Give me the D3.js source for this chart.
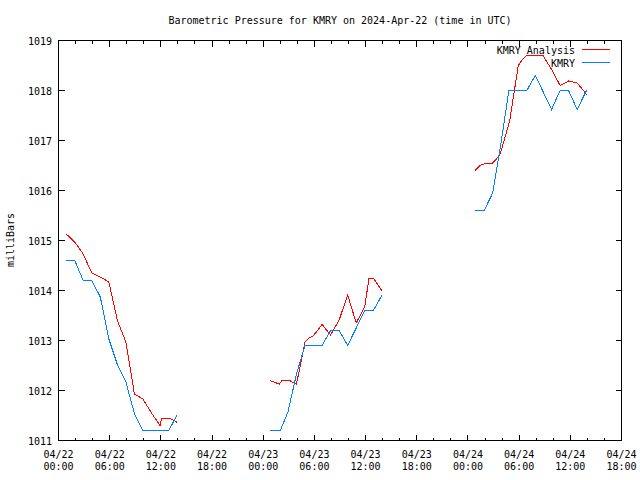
<!DOCTYPE html>
<html>
<head>
<meta charset="utf-8">
<script src="https://cdn.jsdelivr.net/npm/d3@7"></script>
<style>
  html, body { margin: 0; padding: 0; background: #fff; }
  svg { display: block; }
  text { font-family: "DejaVu Sans Mono", "Liberation Mono", monospace; font-size: 10px; fill: #000; }
</style>
</head>
<body>
<svg id="chart" width="640" height="480"></svg>
<script>
// ---- Data (hours after 2024-04-22 00:00 UTC, pressure in mb) ----
const startUTC = Date.UTC(2024, 3, 22, 0, 0);
const spanHours = 66;

// KMRY Analysis (red), null marks a gap
const analysisHours = [
  0.9, 1.9, 2.9, 3.9, 4.9, 5.9, 6.9, 7.9, 8.9, 9.9, 10.9, 11.9, 12.1, 12.9, 13.6, 13.9,
  null,
  24.8, 25.4, 25.9, 26.2, 27.1, 27.5, 27.9, 28.9, 29.3, 29.9, 30.9, 31.9, 32.9, 33.9, 34.9, 35.9, 36.4, 36.9, 37.9,
  null,
  48.8, 49.4, 49.9, 50.9, 51.7, 51.9, 52.9, 53.9, 54.3, 54.85, 56.8, 57.8, 58.8, 59.8, 60.8, 61.3, 61.9
];
const analysisValues = [
  1015.13, 1014.97, 1014.73, 1014.35, 1014.27, 1014.17, 1013.40, 1012.97, 1011.93, 1011.83, 1011.55, 1011.30, 1011.45, 1011.45, 1011.40, 1011.36,
  null,
  1012.20, 1012.16, 1012.13, 1012.20, 1012.20, 1012.16, 1012.13, 1012.97, 1013.04, 1013.10, 1013.32, 1013.11, 1013.41, 1013.91, 1013.35, 1013.67, 1014.25, 1014.25, 1014.00,
  null,
  1016.39, 1016.50, 1016.53, 1016.55, 1016.70, 1016.80, 1017.40, 1018.50, 1018.60, 1018.70, 1018.70, 1018.42, 1018.10, 1018.19, 1018.15, 1018.05, 1017.92
];

// KMRY observations (blue)
const obsHours = [
  0.9, 1.9, 2.9, 3.9, 4.9, 5.9, 6.9, 7.9, 8.9, 9.9, 10.9, 11.9, 12.9, 13.9,
  null,
  24.8, 26.0, 26.9, 27.9, 28.9, 29.9, 30.9, 31.9, 32.9, 33.9, 34.9, 35.9, 36.9, 37.9,
  null,
  48.8, 49.9, 50.9, 51.9, 52.8, 53.9, 54.9, 55.9, 57.8, 58.8, 59.8, 60.8, 61.9
];
const obsValues = [
  1014.60, 1014.60, 1014.20, 1014.20, 1013.87, 1013.03, 1012.52, 1012.17, 1011.54, 1011.20, 1011.20, 1011.20, 1011.20, 1011.50,
  null,
  1011.20, 1011.20, 1011.57, 1012.33, 1012.90, 1012.90, 1012.90, 1013.20, 1013.20, 1012.90, 1013.25, 1013.60, 1013.60, 1013.90,
  null,
  1015.60, 1015.60, 1015.95, 1016.98, 1018.00, 1018.00, 1018.00, 1018.30, 1017.62, 1018.00, 1018.00, 1017.62, 1018.00
];

const yTickValues = [1011, 1012, 1013, 1014, 1015, 1016, 1017, 1018, 1019];
const seriesNames = ["KMRY Analysis", "KMRY"];
const seriesColors = ["#ff0000", "#0080ff"];
const titleText = "Barometric Pressure for KMRY on 2024-Apr-22 (time in UTC)";
const yLabelText = "milliBars";

// ---- Layout ----
const svg = d3.select("#chart");
const L = 58.5, R = 621.5, T = 40.5, B = 440.5;

const toDate = h => new Date(startUTC + h * 3600e3);
const x = d3.scaleUtc().domain([toDate(0), toDate(spanHours)]).range([L, R]);
const y = d3.scaleLinear().domain([1011, 1019]).range([B, T]);

// Title
svg.append("text").attr("x", 340).attr("y", 24).attr("text-anchor", "middle").text(titleText);

// Y label
svg.append("text").attr("transform", "translate(14,240) rotate(-90)")
  .attr("text-anchor", "middle").text(yLabelText);

const g = svg.append("g");

// Frame
g.append("rect").attr("x", L).attr("y", T).attr("width", R - L).attr("height", B - T)
  .attr("fill", "none").attr("stroke", "#000").attr("stroke-width", 1)
  .attr("shape-rendering", "crispEdges");

// X ticks
const majorTicks = x.ticks(d3.utcHour.every(6));
const minorTicks = x.ticks(d3.utcHour.every(2));
const tickG = g.append("g").attr("stroke", "#000").attr("shape-rendering", "crispEdges");
minorTicks.forEach(d => {
  const xx = Math.round(x(d) - 0.5) + 0.5;
  const isMajor = d.getUTCHours() % 6 === 0;
  const len = isMajor ? 6 : 3;
  tickG.append("line").attr("x1", xx).attr("x2", xx).attr("y1", B).attr("y2", B - len);
  tickG.append("line").attr("x1", xx).attr("x2", xx).attr("y1", T).attr("y2", T + len);
});
const fmtD = d3.utcFormat("%m/%d"), fmtH = d3.utcFormat("%H:%M");
majorTicks.forEach(d => {
  const t = g.append("text").attr("text-anchor", "middle");
  t.append("tspan").attr("x", x(d)).attr("y", 458).text(fmtD(d));
  t.append("tspan").attr("x", x(d)).attr("y", 470).text(fmtH(d));
});

// Y ticks
yTickValues.forEach(v => {
  const yy = Math.round(y(v) - 0.5) + 0.5;
  tickG.append("line").attr("x1", L).attr("x2", L + 6).attr("y1", yy).attr("y2", yy);
  tickG.append("line").attr("x1", R).attr("x2", R - 6).attr("y1", yy).attr("y2", yy);
  g.append("text").attr("x", 52).attr("y", y(v) + 4).attr("text-anchor", "end").text(v);
});

// Lines
function series(hours, values) {
  return hours.map((h, i) => ({ h, v: values[i] }));
}
const line = d3.line()
  .defined(d => d.h !== null && d.v !== null)
  .x(d => x(toDate(d.h)))
  .y(d => y(d.v));

g.append("path").datum(series(analysisHours, analysisValues))
  .attr("d", line).attr("fill", "none").attr("stroke", seriesColors[0]).attr("stroke-width", 1)
  .attr("shape-rendering", "crispEdges");
g.append("path").datum(series(obsHours, obsValues))
  .attr("d", line).attr("fill", "none").attr("stroke", seriesColors[1]).attr("stroke-width", 1)
  .attr("shape-rendering", "crispEdges");

// Legend
seriesNames.forEach((name, i) => {
  const ly = 49.5 + i * 13;
  g.append("text").attr("x", 575).attr("y", ly + 4).attr("text-anchor", "end").text(name);
  g.append("line").attr("x1", 582).attr("x2", 610).attr("y1", ly).attr("y2", ly)
    .attr("stroke", seriesColors[i]).attr("stroke-width", 1).attr("shape-rendering", "crispEdges");
});
</script>
</body>
</html>
